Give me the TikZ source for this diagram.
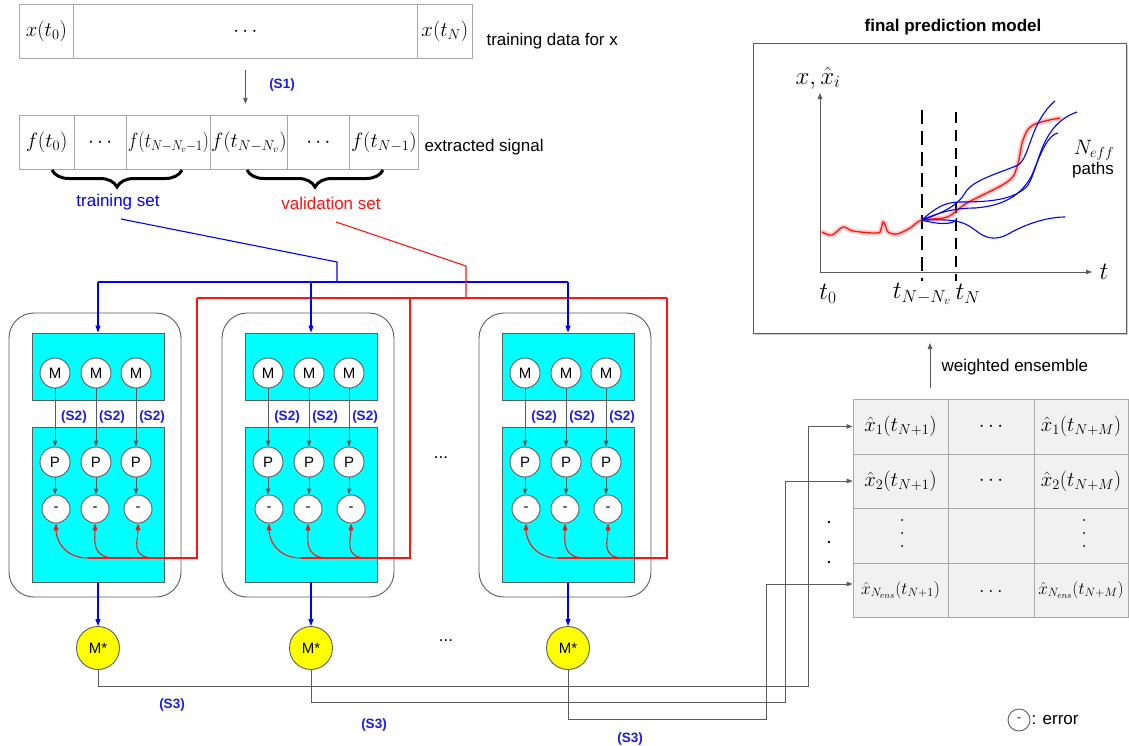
\documentclass[tikz,border=0pt]{standalone}
\usepackage{fontspec}
\setsansfont{Liberation Sans}
\usetikzlibrary{arrows.meta,decorations.pathreplacing,shadows,calc}
\definecolor{cy}{HTML}{00FFFF}
\definecolor{bord}{HTML}{5C5C5C}
\definecolor{cellb}{HTML}{A8A8A8}
\definecolor{tabfill}{HTML}{F1F1F1}
\definecolor{sblue}{HTML}{1A1AF0}
\definecolor{lblue}{HTML}{0000FF}
\definecolor{lred}{HTML}{FF1414}
\definecolor{myyellow}{HTML}{FFFF00}
\tikzset{
  sf/.style={font=\fontsize{17}{20}\selectfont\sffamily},
  sfb/.style={font=\fontsize{17}{20}\selectfont\sffamily\bfseries},
  slab/.style={font=\fontsize{13.5}{15}\selectfont\sffamily\bfseries, text=sblue},
  mth/.style={font=\fontsize{20}{24}\selectfont},
  mthb/.style={font=\fontsize{24}{28}\selectfont, inner sep=0pt},
  cellx/.style={draw=cellb, line width=0.8pt, minimum height=54pt, inner sep=0pt, anchor=north west, mth},
  tcell/.style={draw=cellb, fill=tabfill, line width=0.8pt, inner sep=0pt, mth},
  mcirc/.style={circle, draw=bord, fill=white, line width=0.9pt, minimum size=30pt, inner sep=0pt, font=\fontsize{15}{17}\selectfont\sffamily},
  starc/.style={circle, draw=bord, fill=myyellow, line width=0.9pt, minimum size=43pt, inner sep=0pt, font=\fontsize{15}{17}\selectfont\sffamily},
  outerbox/.style={draw=bord, line width=0.9pt, rounded corners=25pt, minimum width=172pt, minimum height=284pt, inner sep=0pt},
  cybox/.style={draw=bord, fill=cy, line width=0.9pt, inner sep=0pt, minimum width=132pt},
  garr/.style={draw=bord, line width=0.9pt, -{Triangle[length=6pt,width=4.5pt]}},
  gline/.style={draw=bord, line width=0.9pt},
  barr/.style={draw=lblue, line width=1.1pt, -{Triangle[length=7pt,width=5pt]}},
  bline/.style={draw=lblue, line width=1.1pt},
  rarr/.style={draw=lred, line width=1.1pt, -{Triangle[length=7pt,width=5pt]}},
  rline/.style={draw=lred, line width=1.1pt},
}
\begin{document}
\begin{tikzpicture}[x=1pt,y=-1pt]
\useasboundingbox (0,0) rectangle (1129,745);
\fill[white] (0,0) rectangle (1129,745);

% ---------- training data bar ----------
\node[cellx, minimum width=54pt] (x0) at (19,4) {$x(t_0)$};
\node[cellx, minimum width=344pt] (xm) at (73,4) {$\cdots$};
\node[cellx, minimum width=55pt] (xN) at (417,4) {$x(t_N)$};
\node[sf, anchor=west] (tdl) at (483,41) {training data for x};

% (S1)
\draw[garr] ([yshift=-11pt]xm.south) -- ++(0,34);
\node[slab] (s1) at (282,85) {(S1)};

% ---------- extracted signal ----------
\node[cellx, minimum width=54.5pt] (f0) at (19,115) {$f(t_0)$};
\node[cellx, minimum width=52.5pt] (f1) at (73.5,115) {$\cdots$};
\node[cellx, minimum width=84pt] (f2) at (126,115) {\scalebox{0.86}[1]{$f(t_{N-N_v-1})$}};
\node[cellx, minimum width=77pt] (f3) at (210,115) {$f(t_{N-N_v})$};
\node[cellx, minimum width=62pt] (f4) at (287,115) {$\cdots$};
\node[cellx, minimum width=69pt] (f5) at (349,115) {$f(t_{N-1})$};
\node[sf, anchor=west] (esl) at (421,147) {extracted signal};

% braces
\draw[line width=3pt, decorate, decoration={brace, mirror, amplitude=17pt}] (52,170) -- (182,170);
\draw[line width=3pt, decorate, decoration={brace, mirror, amplitude=17pt}] (247,170) -- (383,170);
\node[sf, text=lblue] (trs) at (118,202) {training set};
\node[sf, text=lred] (vas) at (331,203) {validation set};

% ---------- distribution lines ----------
\coordinate (bs) at (121,219);
\coordinate (bk) at (337,262);
\coordinate (bj) at (337,282);
\coordinate (rs) at (336,222);
\coordinate (rk) at (466,266);
\coordinate (rj) at (466,298);
\draw[bline] (bs) -- (bk) -- (bj);
\draw[bline] (98,282) -- (568,282);
\draw[rline] (rs) -- (rk) -- (rj);
\draw[rline] (197,298) -- (667,298);

% ---------- modules ----------
\foreach \i/\X in {1/9,2/222,3/479}{
 \begin{scope}[shift={(\X,0)}]
  \node[outerbox] (out\i) at (86,455) {};
  \node[cybox, minimum height=67pt] (top\i) at (89,366.5) {};
  \node[cybox, minimum height=155pt] (bot\i) at (89,504.5) {};
  \draw[barr] (89,282) -- (top\i.north);
  \draw[rline] (79,558) -- (188,558) -- (188,298);
  \foreach \j/\dx/\ex/\rx/\sx in {1/46/47/79/65, 2/87/86/106/103, 3/127/129/145/143}{
    \node[mcirc] (M\i\j) at (\dx,373) {M};
    \node[mcirc] (P\i\j) at (\dx,462) {P};
    \node[mcirc, minimum size=28pt] (E\i\j) at (\ex,509) {-};
    \draw[garr] (M\i\j) -- (P\i\j);
    \draw[garr] (P\i\j.south) -- (P\i\j.south |- E\i\j.north);
    \node[slab] (S\i\j) at (\sx,417) {(S2)};
    \coordinate (rc\i\j) at (\rx,558);
    \draw[rarr] (rc\i\j) .. controls ($(rc\i\j)+(-24,0)$) and ($(E\i\j.south)+(0,16)$) .. (E\i\j.south);
  }
  \node[starc] (Ms\i) at (89,648) {M*};
  \draw[barr] (bot\i.south) -- (Ms\i.north);
 \end{scope}
}
\node[sf] (dots1) at (441,458) {...};
\node[sf] (dots2) at (446,641) {...};

% ---------- table ----------
\node[tcell, minimum width=95pt, minimum height=55pt] (r1c1) at (900.5,426.5) {$\hat{x}_1(t_{N+1})$};
\node[tcell, minimum width=86pt, minimum height=55pt] (r1c2) at (991,426.5) {$\cdots$};
\node[tcell, minimum width=94pt, minimum height=55pt] (r1c3) at (1081,426.5) {$\hat{x}_1(t_{N+M})$};
\node[tcell, minimum width=95pt, minimum height=54pt] (r2c1) at (900.5,481) {$\hat{x}_2(t_{N+1})$};
\node[tcell, minimum width=86pt, minimum height=54pt] (r2c2) at (991,481) {$\cdots$};
\node[tcell, minimum width=94pt, minimum height=54pt] (r2c3) at (1081,481) {$\hat{x}_2(t_{N+M})$};
\node[tcell, minimum width=95pt, minimum height=55pt] (r3c1) at (900.5,535.5) {};
\node[tcell, minimum width=86pt, minimum height=55pt] (r3c2) at (991,535.5) {};
\node[tcell, minimum width=94pt, minimum height=55pt] (r3c3) at (1081,535.5) {};
\node[tcell, minimum width=95pt, minimum height=54pt, font=\fontsize{18}{22}\selectfont] (r4c1) at (900.5,590) {$\hat{x}_{N_{ens}}(t_{N+1})$};
\node[tcell, minimum width=86pt, minimum height=54pt] (r4c2) at (991,590) {\raisebox{-5pt}{$\ldots$}};
\node[tcell, minimum width=94pt, minimum height=54pt, font=\fontsize{18}{22}\selectfont] (r4c3) at (1081,590) {$\hat{x}_{N_{ens}}(t_{N+M})$};
\foreach \yy in {520,533,546}{
  \fill (902,\yy) circle (1pt);
  \fill (1084,\yy) circle (1pt);
}
\foreach \yy in {522,542,562}{
  \fill (829,\yy) circle (1.4pt);
}

% ---------- S3 connections ----------
\coordinate (k1) at (808,686);
\coordinate (k2) at (785,702);
\coordinate (k3) at (766,719);
\draw[garr] (Ms1.south) |- (k1) |- (r1c1.west);
\draw[garr] (Ms2.south) |- (k2) |- (r2c1.west);
\draw[garr] (Ms3.south) |- (k3) |- ([yshift=6pt]r4c1.west);
\node[slab] (s31) at (172,705) {(S3)};
\node[slab] (s32) at (374,725) {(S3)};
\node[slab] (s33) at (630,739) {(S3)};

% legend
\node[mcirc, minimum size=22pt, font=\fontsize{12}{14}\selectfont\sffamily] (leg) at (1019,720) {-};
\node[sf, anchor=west, inner sep=1pt] (legt) at (leg.east) {: error};

% ---------- weighted ensemble ----------
\coordinate (we1) at (930,388);
\coordinate (we2) at (930,343);
\draw[garr] (we1) -- (we2);
\node[sf, anchor=west] (wel) at (938,367) {weighted ensemble};

% ---------- final prediction model ----------
\node[sfb] (fpt) at (953,27) {final prediction model};
\node[draw=bord, fill=white, line width=1pt, minimum width=373pt, minimum height=290pt, inner sep=0pt,
      drop shadow={shadow xshift=1.5pt, shadow yshift=-2pt, opacity=0.4}] (fp) at (939.5,188) {};
\draw[garr] (820,272) -- (820,93);
\draw[garr] (820,272) -- (1092,272);
\node[mthb] (ylab) at (818,78) {$x,\hat{x}_i$};
\node[mthb] (tlab) at (1104,272) {$t$};
\node[mthb] (t0l) at (828,294) {$t_0$};
\node[mthb, font=\fontsize{23}{27}\selectfont] (tnv) at (922,294) {$t_{N-N_v}$};
\node[mthb, font=\fontsize{23}{27}\selectfont] (tnl) at (968,294) {$t_N$};
\draw[line width=2.6pt, dash pattern=on 14pt off 7pt] (922,110) -- (922,281);
\draw[line width=1.6pt, dash pattern=on 11pt off 7pt] (956,112) -- (956,281);
% red curve with glow
\def\redpath{(822,232) (832,235) (843,227) (853,231) (877,233) (881,229) (883,222) (886,227) (888,232) (897,234) (910,228) (922,220) (947,217) (967,203) (1007,182) (1017,167) (1023,140) (1033,125) (1060,118)}
\draw[lred, opacity=0.22, line width=5pt, line cap=round] plot[smooth, tension=0.6] coordinates {\redpath};
\draw[lred, line width=1.3pt] plot[smooth, tension=0.6] coordinates {\redpath};
% blue paths
\begin{scope}[lblue, line width=1.1pt]
\draw (922,220) .. controls (945,212) and (958,205) .. (965,193) .. controls (972,180) and (1000,173) .. (1018,165) .. controls (1030,158) and (1030,122) .. (1055,101);
\draw (922,220) .. controls (935,208) and (945,202) .. (960,202) .. controls (990,202) and (1015,200) .. (1028,185) .. controls (1040,165) and (1040,125) .. (1077,112);
\draw (922,220) .. controls (940,212) and (955,208) .. (975,208) .. controls (1000,206) and (1020,198) .. (1032,175) .. controls (1042,150) and (1048,135) .. (1058,133);
\draw (922,220) .. controls (945,220) and (960,218) .. (975,230) .. controls (985,238) and (995,242) .. (1010,233) .. controls (1030,222) and (1050,217) .. (1065,217);
\draw (922,220) .. controls (935,224) and (955,226) .. (957,218);
\end{scope}
\node[font=\fontsize{20}{24}\selectfont] (neff) at (1094,150) {$N_{eff}$};
\node[sf] (paths) at (1093,170) {paths};
\end{tikzpicture}
\end{document}
